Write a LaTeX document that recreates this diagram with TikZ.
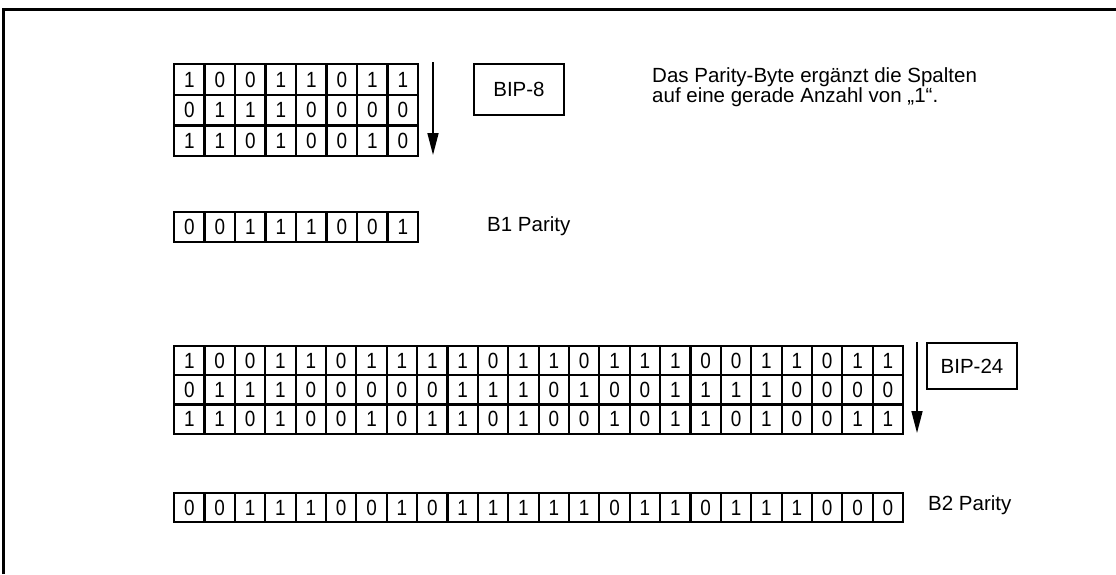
\documentclass[tikz,border=0pt]{standalone}
\usepackage{fontspec}
\setmainfont{Liberation Sans}
\newfontfamily\cellfont[FakeStretch=0.86]{Liberation Sans}
\usetikzlibrary{arrows.meta}
\begin{document}
\begin{tikzpicture}[x=1pt,y=-1pt,
  cell/.style={draw,line width=2.2pt,minimum width=30.4pt,inner sep=0pt,
    font=\cellfont\fontsize{22}{22}\selectfont,anchor=north west},
  lbl/.style={font=\fontsize{20.5}{20}\selectfont,inner sep=0pt},
  boxlbl/.style={draw,line width=2.6pt,font=\fontsize{20.5}{20}\selectfont,inner sep=0pt,
    minimum width=90pt},
  flow/.style={line width=1.6pt,-{Triangle[length=22pt,width=11pt]}},
  frame/.style={line width=3pt}]
\useasboundingbox (0,0) rectangle (1116,574);
\coordinate (f1) at (3,574);
\coordinate (f2) at (3,9);
\coordinate (f3) at (1116,9);
\draw[frame] (f1) -- (f2) -- (f3);

% BIP-8 block
\foreach \row [count=\r] in {{1,0,0,1,1,0,1,1},{0,1,1,1,0,0,0,0},{1,1,0,1,0,0,1,0}} {
  \foreach \v [count=\c] in \row {
    \node[cell,minimum height=30.7pt] (a-\r-\c) at ({173+(\c-1)*30.5},{63+(\r-1)*30.7}) {\v};
  }
}
\coordinate (a8s) at (433,62);
\coordinate (a8e) at (433,155);
\draw[flow] (a8s) -- (a8e);
\node[boxlbl,minimum height=51pt] (bip8) at (519,89.5) {BIP-8};
\node[lbl,anchor=north west,align=left] (desc) at (652,67)
  {Das Parity-Byte ergänzt die Spalten\\auf eine gerade Anzahl von „1“.};

\foreach \v [count=\c] in {0,0,1,1,1,0,0,1} {
  \node[cell,minimum height=30pt] (p-\c) at ({173+(\c-1)*30.5},211) {\v};
}
\node[lbl,anchor=west] (b1) at (487,226) {B1 Parity};

% BIP-24 block
\foreach \row [count=\r] in {
  {1,0,0,1,1,0,1,1,1,1,0,1,1,0,1,1,1,0,0,1,1,0,1,1},
  {0,1,1,1,0,0,0,0,0,1,1,1,0,1,0,0,1,1,1,1,0,0,0,0},
  {1,1,0,1,0,0,1,0,1,1,0,1,0,0,1,0,1,1,0,1,0,0,1,1}} {
  \foreach \v [count=\c] in \row {
    \node[cell,minimum height=29.2pt] (b-\r-\c) at ({173+(\c-1)*30.375},{345+(\r-1)*29.2}) {\v};
  }
}
\coordinate (a24s) at (917,342);
\coordinate (a24e) at (917,433);
\draw[flow] (a24s) -- (a24e);
\node[boxlbl,minimum height=46pt] (bip24) at (972,366) {BIP-24};

\foreach \v [count=\c] in {0,0,1,1,1,0,0,1,0,1,1,1,1,1,0,1,1,0,1,1,1,0,0,0} {
  \node[cell,minimum height=29pt] (q-\c) at ({173+(\c-1)*30.375},492) {\v};
}
\node[lbl,anchor=west] (b2) at (928,505) {B2 Parity};
\end{tikzpicture}
\end{document}
